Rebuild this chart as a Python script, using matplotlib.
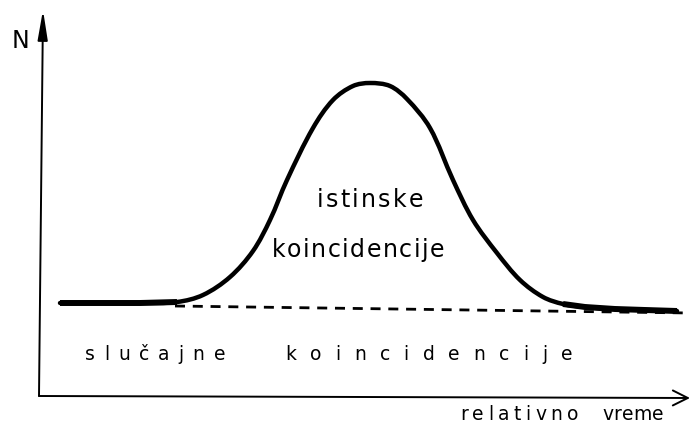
import matplotlib
matplotlib.use("Agg")
import matplotlib.pyplot as plt
import numpy as np
from matplotlib.path import Path
from matplotlib.patches import PathPatch

# relative time (arbitrary units) and counts N along the measured curve
t = [21, 61, 101, 138, 164, 191, 214, 231, 248, 274, 294, 314, 331,
     351, 368, 391, 414, 434, 458, 481, 504, 524, 546, 576, 606, 638]
N = [93, 93, 93, 94, 101, 119, 145, 176, 216, 268, 296, 310, 313,
     310, 297, 268, 216, 176, 143, 116, 99, 92, 89, 87, 86, 85]

# background of random coincidences (dashed)
bg_t = [136, 651]
bg_N = [90, 83]

ax_len_t = 651
ax_len_N = 386


def smooth_path(xs, ys):
    # cubic Bezier through the points, tangents scaled by chord length
    p = np.column_stack([xs, ys]).astype(float)
    d = np.hypot(*np.diff(p, axis=0).T)
    m = np.zeros_like(p)
    m[0] = (p[1] - p[0]) / d[0]
    m[-1] = (p[-1] - p[-2]) / d[-1]
    for i in range(1, len(p) - 1):
        m[i] = (p[i + 1] - p[i - 1]) / (d[i - 1] + d[i])
    verts = [p[0]]
    codes = [Path.MOVETO]
    for i in range(len(p) - 1):
        verts += [p[i] + m[i] * d[i] / 3, p[i + 1] - m[i + 1] * d[i] / 3,
                  p[i + 1]]
        codes += [Path.CURVE4] * 3
    return Path(verts, codes)


def spaced(ax, x, y, word, size, track):
    # draw a word letter by letter with extra spacing (1 data unit = 1 px)
    r = ax.figure.canvas.get_renderer()
    ref = ax.text(0, 0, "n", fontsize=size)
    w_ref = ref.get_window_extent(r).width
    ref.remove()
    for ch in word:
        probe = ax.text(0, 0, ch + "n", fontsize=size)
        adv = probe.get_window_extent(r).width - w_ref
        probe.remove()
        ax.text(x, y, ch, fontsize=size, ha="left", va="baseline",
                color="black")
        x += adv + track
    return x


fig = plt.figure(figsize=(6.91, 4.28), dpi=100)
ax = fig.add_axes([0, 0, 1, 1])
ax.set_xlim(-39, 652)
ax.set_ylim(-32, 396)
ax.axis("off")

# axes with arrow heads
ax.annotate("", xy=(4, ax_len_N), xytext=(0, 0),
            arrowprops=dict(arrowstyle="-|>,head_length=1.8,head_width=0.3",
                            mutation_scale=10, lw=1.4, color="black",
                            shrinkA=0, shrinkB=0))
ax.annotate("", xy=(ax_len_t, -2), xytext=(0, 0),
            arrowprops=dict(arrowstyle="->,head_length=0.9,head_width=0.45",
                            mutation_scale=12, lw=1.4, color="black",
                            shrinkA=0, shrinkB=0))

# dashed background level
bg, = ax.plot(bg_t, bg_N, color="black", lw=2.0)
bg.set_dashes((3.6, 2.8))

# coincidence curve, heavier on the flat tails
ax.add_patch(PathPatch(smooth_path(t, N), fill=False, lw=3.2,
                       edgecolor="black", capstyle="round",
                       joinstyle="round"))
ax.plot(t[:4], N[:4], color="black", lw=4.3, solid_capstyle="butt")
ax.plot(t[-5:], N[-5:], color="black", lw=4.3, solid_capstyle="butt")

ax.text(-27, 348, "N", fontsize=17, ha="left", va="baseline")

spaced(ax, 278, 189, "istinske", 17, 2.2)
spaced(ax, 233, 139, "koincidencije", 17, 1.5)

spaced(ax, 46, 36, "slučajne", 13.5, 9)
spaced(ax, 246, 36, "koincidencije", 13.5, 13.8)

spaced(ax, 421, -24, "relativno", 13.5, 4.5)
spaced(ax, 563, -24, "vreme", 13.5, 0.5)

fig.savefig("out.png", dpi=100)
